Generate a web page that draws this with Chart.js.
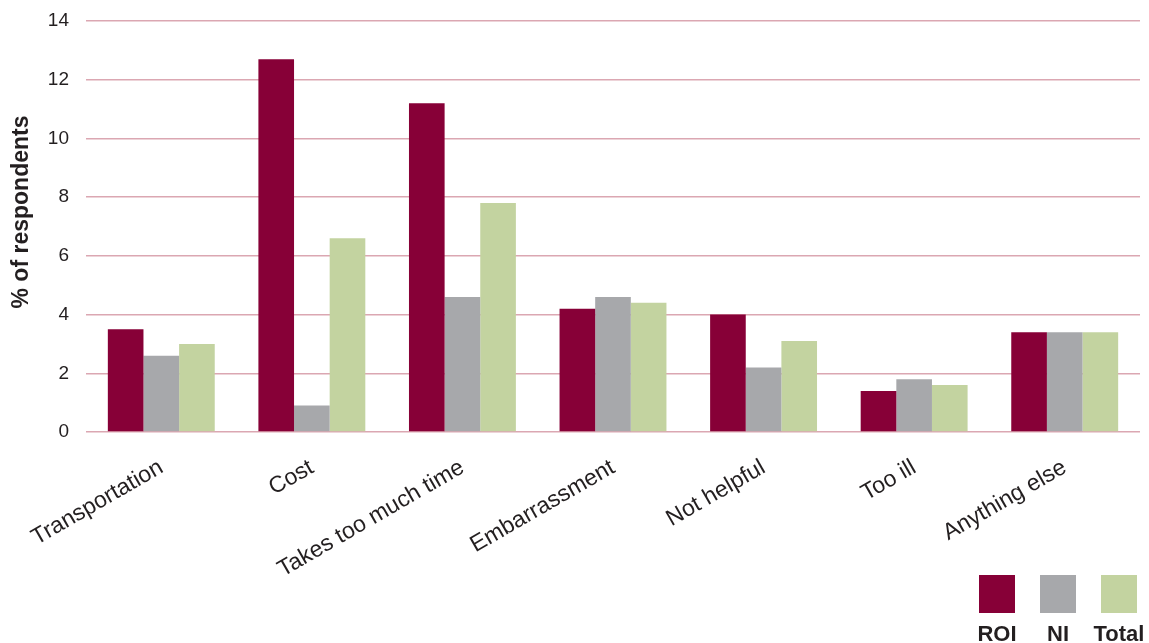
<!DOCTYPE html>
<html>
<head>
<meta charset="utf-8">
<script src="https://cdn.jsdelivr.net/npm/chart.js@4/dist/chart.umd.min.js"></script>
<style>
  html, body { margin: 0; padding: 0; background: #ffffff; }
  #wrap { width: 1149px; height: 643px; position: relative; }
</style>
</head>
<body>
<div id="wrap"><canvas id="c"></canvas></div>
<script>
const categories = ["Transportation", "Cost", "Takes too much time", "Embarrassment", "Not helpful", "Too ill", "Anything else"];
const seriesNames = ["ROI", "NI", "Total"];
const roiValues = [3.5, 12.7, 11.2, 4.2, 4.0, 1.4, 3.4];
const niValues = [2.6, 0.9, 4.6, 4.6, 2.2, 1.8, 3.4];
const totalValues = [3.0, 6.6, 7.8, 4.4, 3.1, 1.6, 3.4];
const yTickValues = [0, 2, 4, 6, 8, 10, 12, 14];
const yAxisTitle = "% of respondents";

const colors = ["#870037", "#a7a8ab", "#c3d3a0"];
const textColor = "#231f20";
const FONT = "'Liberation Sans', Arial, Helvetica, sans-serif";

const bottomLegend = {
  id: 'bottomLegend',
  afterDraw(chart) {
    const ctx = chart.ctx;
    const boxW = 36, boxH = 38, gap = 61;
    const startX = chart.width - 170;
    const boxTop = 575;
    ctx.save();
    chart.data.datasets.forEach((ds, i) => {
      const x = startX + i * gap;
      ctx.fillStyle = ds.backgroundColor;
      ctx.fillRect(x, boxTop, boxW, boxH);
      ctx.fillStyle = textColor;
      ctx.font = "bold 22px " + FONT;
      ctx.textAlign = 'center';
      ctx.textBaseline = 'alphabetic';
      ctx.fillText(ds.label, x + boxW / 2, 641);
    });
    ctx.restore();
  }
};

const yTitlePlugin = {
  id: 'yTitlePlugin',
  afterDraw(chart) {
    const ctx = chart.ctx;
    ctx.save();
    ctx.translate(22, 212);
    ctx.rotate(-Math.PI / 2);
    ctx.fillStyle = textColor;
    ctx.font = "bold 23px " + FONT;
    ctx.textAlign = 'center';
    ctx.textBaseline = 'middle';
    ctx.fillText(yAxisTitle, 0, 0);
    ctx.restore();
  }
};

new Chart(document.getElementById('c'), {
  type: 'bar',
  data: {
    labels: categories,
    datasets: [
      { label: seriesNames[0], data: roiValues, backgroundColor: colors[0] },
      { label: seriesNames[1], data: niValues, backgroundColor: colors[1] },
      { label: seriesNames[2], data: totalValues, backgroundColor: colors[2] }
    ]
  },
  options: {
    responsive: true,
    maintainAspectRatio: false,
    animation: false,
    layout: { padding: { top: 21, right: 9, bottom: 0, left: 0 } },
    datasets: { bar: { categoryPercentage: 0.71, barPercentage: 1.0, borderWidth: 0 } },
    plugins: {
      legend: { display: false },
      tooltip: { enabled: false }
    },
    scales: {
      x: {
        grid: { display: false, drawTicks: false, tickLength: 0 },
        border: { display: false },
        ticks: {
          color: textColor,
          font: { family: FONT, size: 23 },
          minRotation: 30,
          maxRotation: 30,
          autoSkip: false,
          padding: 22
        },
        afterFit(scale) { scale.height = 211; scale.paddingLeft = 0; scale.paddingRight = 0; }
      },
      y: {
        min: 0,
        max: 14,
        afterBuildTicks(scale) { scale.ticks = yTickValues.map(v => ({ value: v })); },
        grid: { color: '#dba7b2', lineWidth: 1.5, drawTicks: false, tickLength: 0 },
        border: { display: false },
        ticks: {
          color: textColor,
          font: { family: FONT, size: 19 },
          padding: 17
        },
        title: { display: false },
        afterFit(scale) { scale.width = 86; scale.paddingTop = 0; scale.paddingBottom = 0; }
      }
    }
  },
  plugins: [bottomLegend, yTitlePlugin]
});
</script>
</body>
</html>
